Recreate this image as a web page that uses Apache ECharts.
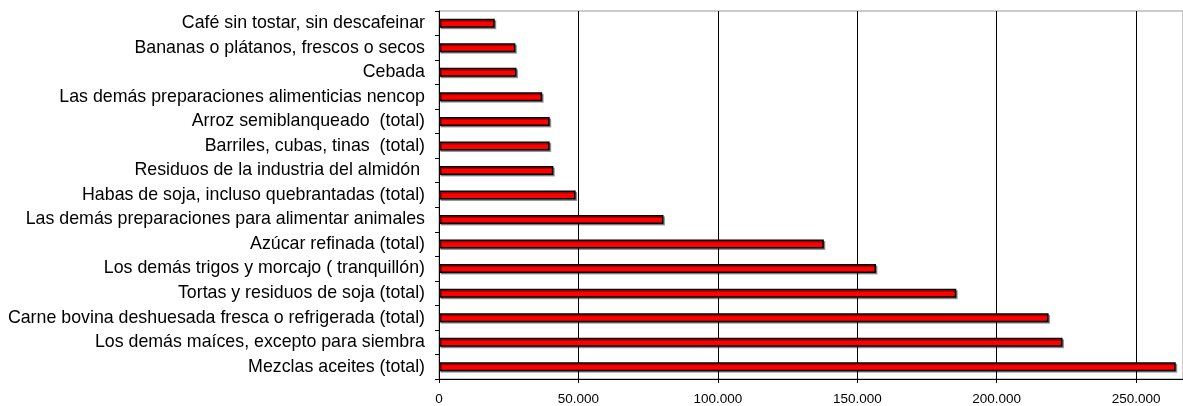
<!DOCTYPE html>
<html>
<head>
<meta charset="utf-8">
<script src="https://cdn.jsdelivr.net/npm/echarts@6/dist/echarts.min.js"></script>
<style>html,body{margin:0;padding:0;background:#fff;}#c{width:1183px;height:406px;}</style>
</head>
<body>
<div id="c"></div>
<script>
const categories = [
  "Mezclas aceites (total)",
  "Los demás maíces, excepto para siembra",
  "Carne bovina deshuesada fresca o refrigerada (total)",
  "Tortas y residuos de soja (total)",
  "Los demás trigos y morcajo ( tranquillón)",
  "Azúcar refinada (total)",
  "Las demás preparaciones para alimentar animales",
  "Habas de soja, incluso quebrantadas (total)",
  "Residuos de la industria del almidón ",
  "Barriles, cubas, tinas  (total)",
  "Arroz semiblanqueado  (total)",
  "Las demás preparaciones alimenticias nencop",
  "Cebada",
  "Bananas o plátanos, frescos o secos",
  "Café sin tostar, sin descafeinar"
];
const values = [264200, 223600, 218600, 185500, 156700, 138000, 80500, 49000, 41000, 39700, 39700, 37000, 27800, 27400, 20000];
const xTicks = [0, 50000, 100000, 150000, 200000, 250000];

const chart = echarts.init(document.getElementById('c'), null, {renderer: 'canvas'});
chart.setOption({
  animation: false,
  backgroundColor: '#ffffff',
  grid: {left: 439, right: -2, top: 11, bottom: 24, show: true, borderColor: '#999999', borderWidth: 1, backgroundColor: 'transparent'},
  xAxis: {
    type: 'value', min: 0, max: 266800, interval: 50000,
    axisLine: {show: true, lineStyle: {color: '#000', width: 1}},
    axisTick: {show: true, length: 4, lineStyle: {color: '#000'}},
    splitLine: {show: true, lineStyle: {color: '#000', width: 1}},
    axisLabel: {
      color: '#000', fontFamily: 'Liberation Sans, Arial', fontSize: 13.5, margin: 13,
      showMaxLabel: false,
      formatter: v => xTicks.indexOf(v) >= 0 ? (v === 0 ? '0' : v.toLocaleString('de-DE')) : ''
    }
  },
  yAxis: {
    type: 'category', data: categories,
    axisLine: {show: true, lineStyle: {color: '#000', width: 1}},
    axisTick: {show: true, length: 4, lineStyle: {color: '#000'}},
    splitLine: {show: false},
    axisLabel: {color: '#000', fontFamily: 'Liberation Sans, Arial', fontSize: 17.8, margin: 14}
  },
  series: [{
    type: 'bar', data: values, barWidth: 9,
    itemStyle: {color: '#ff0000', borderColor: '#000', borderWidth: 1.5,
      shadowColor: 'rgba(0,0,0,0.35)', shadowOffsetX: 1.5, shadowOffsetY: 1.5, shadowBlur: 0}
  }]
});
</script>
</body>
</html>
